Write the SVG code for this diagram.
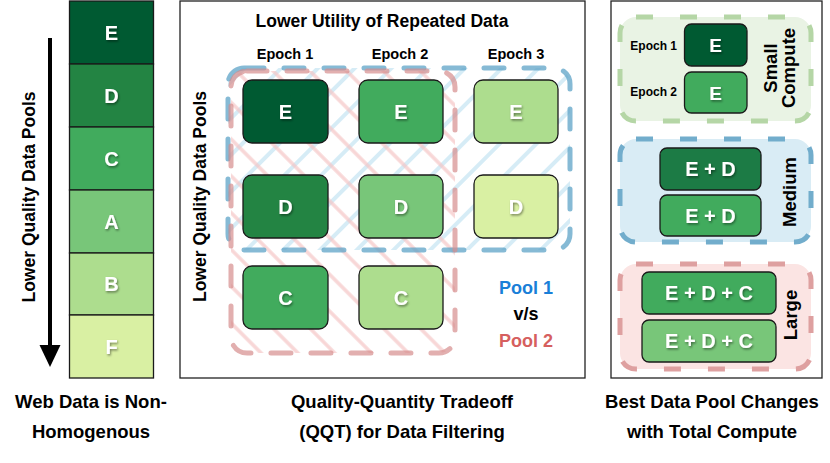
<svg xmlns="http://www.w3.org/2000/svg" width="830" height="463" viewBox="0 0 830 463">
<defs>
<style>
text{font-family:"Liberation Sans",Arial,sans-serif;font-weight:bold;fill:#000}
.cap{font-size:18.5px;text-anchor:middle}
.lbl{fill:#fff;text-anchor:middle;filter:url(#sh)}
.box{stroke:#1a1a1a;stroke-width:1.3}
.panel{fill:#fff;stroke:#222;stroke-width:1.3}
.ep{font-size:14.5px;text-anchor:middle}
.vt{font-size:18.5px;text-anchor:middle}
</style>
<filter id="sh" x="-50%" y="-50%" width="200%" height="200%">
<feDropShadow dx="1" dy="1.5" stdDeviation="1.2" flood-color="#000" flood-opacity="0.45"/>
</filter>
<pattern id="hb" width="26" height="26" patternUnits="userSpaceOnUse" patternTransform="rotate(45)">
<line x1="13" y1="0" x2="13" y2="26" stroke="#c4e4f3" stroke-width="4" opacity="0.7"/>
</pattern>
<pattern id="hr" width="26" height="26" patternUnits="userSpaceOnUse" patternTransform="rotate(-45)">
<line x1="13" y1="0" x2="13" y2="26" stroke="#f5c4c4" stroke-width="3.5" opacity="0.7"/>
</pattern>
</defs>

<!-- Left column -->
<g id="left-column">
<rect x="69.5" y="1" width="84" height="63" fill="#005a32" class="box"/>
<rect x="69.5" y="64" width="84" height="63" fill="#238443" class="box"/>
<rect x="69.5" y="127" width="84" height="63" fill="#41ab5d" class="box"/>
<rect x="69.5" y="190" width="84" height="63" fill="#78c679" class="box"/>
<rect x="69.5" y="253" width="84" height="62" fill="#addd8e" class="box"/>
<rect x="69.5" y="315" width="84" height="63" fill="#d9f0a3" class="box"/>
<g style="font-size:20px">
<text x="111.5" y="39.5" class="lbl">E</text>
<text x="111.5" y="102.5" class="lbl">D</text>
<text x="111.5" y="165.5" class="lbl">C</text>
<text x="111.5" y="228.5" class="lbl">A</text>
<text x="111.5" y="291" class="lbl">B</text>
<text x="111.5" y="353.5" class="lbl">F</text>
</g>
<text transform="translate(35,197) rotate(-90)" class="vt" style="font-size:17.5px">Lower Quality Data Pools</text>
<text x="91" y="408" class="cap">Web Data is Non-</text>
<text x="91" y="438" class="cap">Homogenous</text>
</g>

<g id="connectors">
<line x1="50" y1="38" x2="50" y2="346" stroke="#000" stroke-width="4"/>
<path d="M39.5,345 L60.5,345 L50,367 Z" fill="#000"/>
<path d="M219,349 L219,39 L539,39" fill="none" stroke="#000" stroke-width="3.5" stroke-linejoin="miter"/>
<path d="M538,29.5 L558,39 L538,48.5 Z" fill="#000"/>
<path d="M209.5,348 L228.5,348 L219,367 Z" fill="#000"/>
</g>

<!-- Middle panel -->
<g id="middle-panel">
<rect x="180" y="1" width="405" height="377" class="panel"/>
<text x="382" y="27" style="font-size:17.5px;text-anchor:middle">Lower Utility of Repeated Data</text>
<text x="285" y="59" class="ep">Epoch 1</text>
<text x="400" y="59" class="ep">Epoch 2</text>
<text x="516" y="59" class="ep">Epoch 3</text>
<text transform="translate(206,196.5) rotate(-90)" class="vt" style="font-size:17.5px">Lower Quality Data Pools</text>
</g>

<g id="pool1-fill"><rect x="228" y="68" width="342" height="182" rx="16" fill="url(#hb)"/></g>
<g id="pool2-fill"><rect x="231" y="71" width="224" height="282" rx="16" fill="url(#hr)"/></g>
<g id="pool1"><rect x="228" y="68" width="342" height="182" rx="16" fill="none" stroke="#5ea3c7" stroke-width="5" stroke-dasharray="20 20" stroke-linecap="round" opacity="0.75"/></g>
<g id="pool2"><rect x="231" y="71" width="224" height="282" rx="16" fill="none" stroke="#d68d8d" stroke-width="5" stroke-dasharray="20 20" stroke-linecap="round" opacity="0.7"/></g>

<g style="font-size:20px">
<g id="e1"><rect x="243" y="80" width="85" height="63" rx="9" fill="#005a32" class="box"/><text x="285.5" y="118.5" class="lbl">E</text></g>
<g id="e2"><rect x="359" y="80" width="84" height="63" rx="9" fill="#41ab5d" class="box"/><text x="401" y="118.5" class="lbl">E</text></g>
<g id="e3"><rect x="474" y="80" width="84" height="63" rx="9" fill="#addd8e" class="box"/><text x="516" y="118.5" class="lbl">E</text></g>
<g id="d1"><rect x="243" y="175" width="85" height="63" rx="9" fill="#238443" class="box"/><text x="285.5" y="213.5" class="lbl">D</text></g>
<g id="d2"><rect x="359" y="175" width="84" height="63" rx="9" fill="#78c679" class="box"/><text x="401" y="213.5" class="lbl">D</text></g>
<g id="d3"><rect x="474" y="175" width="84" height="63" rx="9" fill="#d9f0a3" class="box"/><text x="516" y="213.5" class="lbl">D</text></g>
<g id="c1"><rect x="243" y="266" width="85" height="63" rx="9" fill="#41ab5d" class="box"/><text x="285.5" y="304.5" class="lbl">C</text></g>
<g id="c2"><rect x="359" y="266" width="84" height="63" rx="9" fill="#addd8e" class="box"/><text x="401" y="304.5" class="lbl">C</text></g>
</g>

<g id="legend" style="font-size:18px;text-anchor:middle">
<text x="526" y="294" style="fill:#1a7fd8">Pool 1</text>
<text x="526" y="320">v/s</text>
<text x="526" y="347" style="fill:#d65f5f">Pool 2</text>
</g>
<text x="402" y="408" class="cap">Quality-Quantity Tradeoff</text>
<text x="402" y="438" class="cap">(QQT) for Data Filtering</text>

<!-- Right panel -->
<g id="right-panel">
<rect x="611" y="1" width="211" height="377" class="panel"/>
</g>
<g id="small">
<rect x="620" y="17" width="191" height="104" rx="16" fill="#e9f3e4" stroke="#b5d6a6" stroke-width="5" stroke-dasharray="17 27"/>
<rect x="684.5" y="24" width="62.5" height="42" rx="7" fill="#005a32" class="box"/>
<rect x="684.5" y="72" width="62.5" height="41" rx="7" fill="#41ab5d" class="box"/>
<text x="715.7" y="52" class="lbl" style="font-size:19px">E</text>
<text x="715.7" y="99.5" class="lbl" style="font-size:19px">E</text>
<text x="677" y="50" style="font-size:12px;text-anchor:end">Epoch 1</text>
<text x="677" y="96" style="font-size:12px;text-anchor:end">Epoch 2</text>
<text transform="translate(777,68) rotate(-90)" class="vt">Small</text>
<text transform="translate(795,68) rotate(-90)" class="vt">Compute</text>
</g>
<g id="medium">
<rect x="620" y="139" width="191" height="103" rx="16" fill="#d9ecf5" stroke="#72adcc" stroke-width="5" stroke-dasharray="17 27"/>
<rect x="660" y="148" width="101" height="42" rx="7" fill="#1c7b45" class="box"/>
<rect x="660" y="195" width="101" height="41" rx="7" fill="#41ab5d" class="box"/>
<text x="710.5" y="176" class="lbl" style="font-size:20px">E + D</text>
<text x="710.5" y="222.5" class="lbl" style="font-size:20px">E + D</text>
<text transform="translate(796,192) rotate(-90)" class="vt">Medium</text>
</g>
<g id="large">
<rect x="620" y="264" width="191" height="105" rx="16" fill="#fbe4e3" stroke="#dea0a0" stroke-width="5" stroke-dasharray="17 27"/>
<rect x="642" y="272" width="134" height="42" rx="7" fill="#41ab5d" class="box"/>
<rect x="642" y="320" width="134" height="42" rx="7" fill="#78c679" class="box"/>
<text x="709" y="300" class="lbl" style="font-size:20px">E + D + C</text>
<text x="709" y="348" class="lbl" style="font-size:20px">E + D + C</text>
<text transform="translate(797,315) rotate(-90)" class="vt">Large</text>
</g>
<text x="712" y="408" class="cap">Best Data Pool Changes</text>
<text x="712" y="438" class="cap">with Total Compute</text>
</svg>
